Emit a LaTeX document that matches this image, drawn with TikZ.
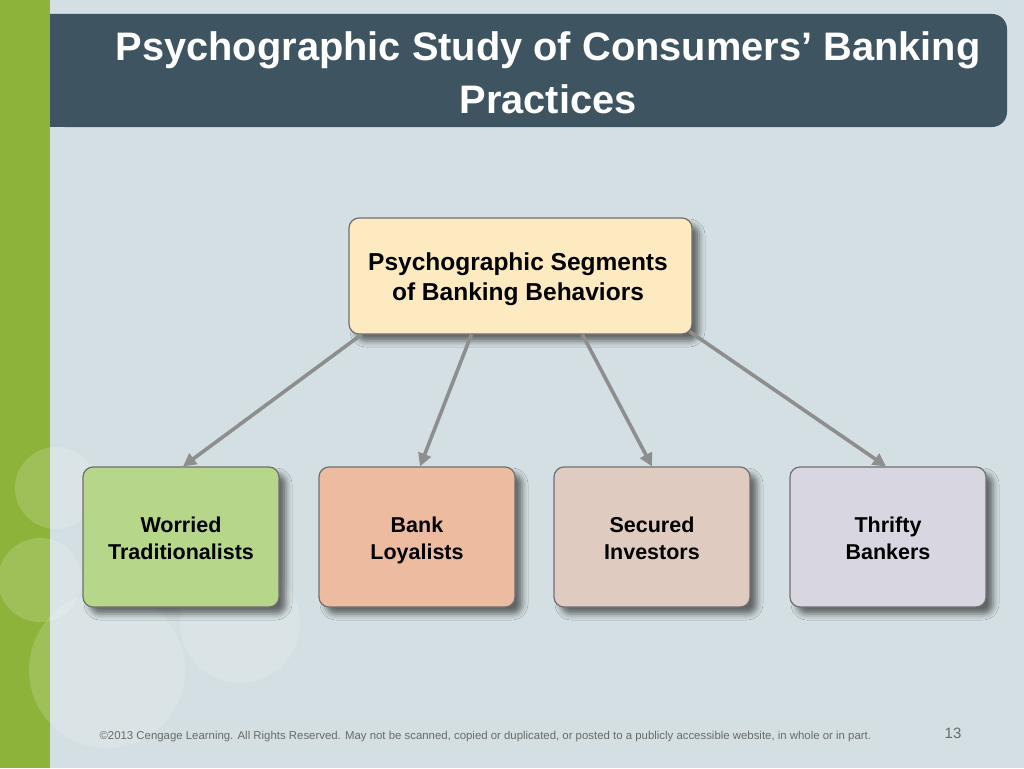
\documentclass[tikz,border=0pt]{standalone}
\usepackage{fontspec}
\setmainfont{Liberation Sans}
\usetikzlibrary{arrows.meta,shadows.blur,calc}
\definecolor{bgc}{HTML}{D3DFE2}
\definecolor{greenbar}{HTML}{8DB33A}
\definecolor{titlebar}{HTML}{3E5461}
\definecolor{topfill}{HTML}{FDEAC0}
\definecolor{fillA}{HTML}{B6D68A}
\definecolor{fillB}{HTML}{EDBBA0}
\definecolor{fillC}{HTML}{E0CBC1}
\definecolor{fillD}{HTML}{D8D6E1}
\definecolor{boxborder}{HTML}{6F6F6F}
\definecolor{arrowc}{HTML}{8E8E8E}
\definecolor{footc}{HTML}{6A6A6A}
\tikzset{
  x=1pt, y=-1pt,
  segbox/.style={draw=boxborder, line width=1.2pt, rounded corners=10pt,
    blur shadow={shadow xshift=7pt, shadow yshift=-7pt, shadow blur radius=6pt, shadow opacity=55},
    align=center},
  segtext/.style={align=center, font=\bfseries\fontsize{21.5}{27}\selectfont},
  connector/.style={draw=arrowc, line width=3.6pt, -{Triangle[length=13pt,width=13pt]}},
  deco/.style={fill=white, fill opacity=0.16, draw=none},
  titletext/.style={font=\bfseries\fontsize{39.8}{53}\selectfont, align=center}
}
\begin{document}
\begin{tikzpicture}
\useasboundingbox (0,0) rectangle (1024,768);
\fill[bgc] (0,0) rectangle (1024,768);
\fill[greenbar] (0,0) rectangle (50,768);
% decorative circles
\fill[deco] (56,488) circle (41);
\fill[deco] (40,580) circle (42);
\fill[deco] (107,670) circle (78);
\fill[deco] (240,623) circle (60);
% title bar
\fill[titlebar, rounded corners=15pt] (50,14) -- (1007,14) -- (1007,127) -- (50,127) [sharp corners] -- cycle;
\fill[titlebar] (50,14) rectangle (80,127);
\node[text=white, titletext] (title) at (548,73) {Psychographic Study of Consumers’ Banking\\Practices};
% top node
\node[segbox, fill=topfill, minimum width=343pt, minimum height=116pt] (top) at (520.5,276) {};
\node[align=center, font=\bfseries\fontsize{24.5}{30}\selectfont] (toptext) at (518,279) {Psychographic Segments\strut\\of Banking Behaviors\strut};
% bottom nodes
\node[segbox, fill=fillA, minimum width=196pt, minimum height=140pt] (b1) at (181,537) {};
\node[segbox, fill=fillB, minimum width=196pt, minimum height=140pt] (b2) at (417,537) {};
\node[segbox, fill=fillC, minimum width=196pt, minimum height=140pt] (b3) at (652,537) {};
\node[segbox, fill=fillD, minimum width=196pt, minimum height=140pt] (b4) at (888,537) {};
\node[segtext] (t1) at (181,541) {Worried\strut\\Traditionalists\strut};
\node[segtext] (t2) at (417,541) {Bank\strut\\Loyalists\strut};
\node[segtext] (t3) at (652,541) {Secured\strut\\Investors\strut};
\node[segtext] (t4) at (888,541) {Thrifty\strut\\Bankers\strut};
% connectors
\coordinate (s1) at ($(top.south west)+(13,0)$);
\coordinate (s2) at ($(top.south west)+(123,0)$);
\coordinate (s3) at ($(top.south west)+(234,0)$);
\coordinate (s4) at ($(top.south east)+(-3,-3)$);
\draw[connector] (s1) -- ($(b1.north)+(2,0)$);
\draw[connector] (s2) -- ($(b2.north)+(3,0)$);
\draw[connector] (s3) -- (b3.north);
\draw[connector] (s4) -- ($(b4.north)+(-2,0)$);
% footer
\node[text=footc, font=\fontsize{11.4}{13}\selectfont, anchor=west] (foot) at (96,737) {©2013 Cengage Learning. All Rights Reserved. May not be scanned, copied or duplicated, or posted to a publicly accessible website, in whole or in part.};
\node[text=footc, font=\fontsize{15}{18}\selectfont] (pg) at (953,733) {13};
\end{tikzpicture}
\end{document}
